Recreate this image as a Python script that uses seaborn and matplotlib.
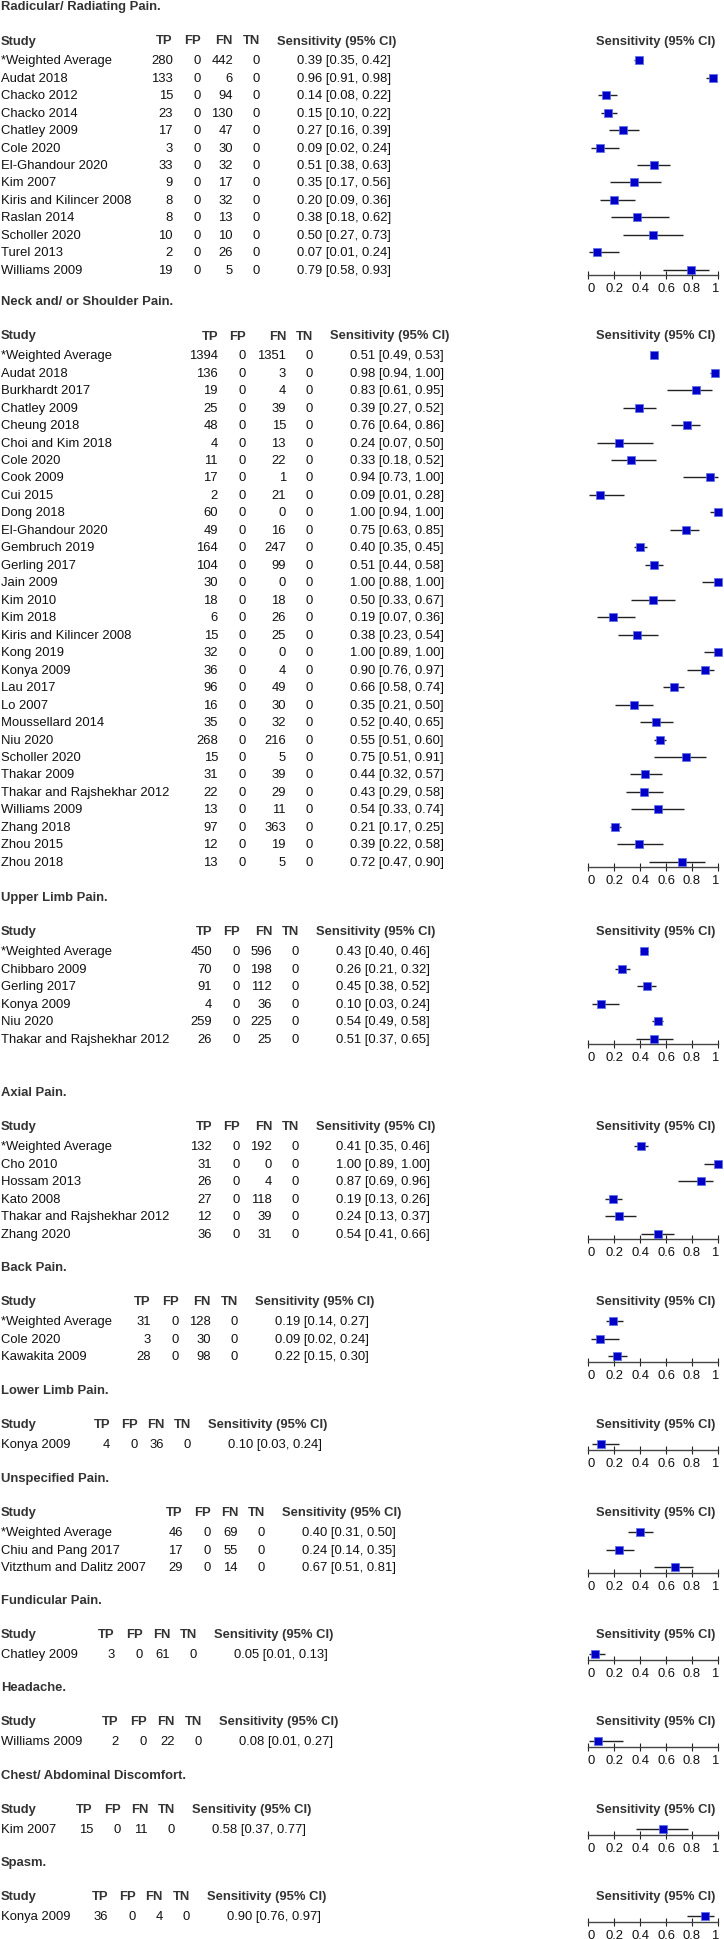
import matplotlib
matplotlib.use("Agg")
import matplotlib.pyplot as plt
import seaborn as sns
import pandas as pd
import numpy as np

# section titles and number of studies listed in each
sections = ["Radicular/ Radiating Pain.", "Neck and/ or Shoulder Pain.", "Upper Limb Pain.",
            "Axial Pain.", "Back Pain.", "Lower Limb Pain.", "Unspecified Pain.",
            "Fundicular Pain.", "Headache.", "Chest/ Abdominal Discomfort.", "Spasm."]
n_rows = [13, 30, 6, 6, 3, 1, 3, 1, 1, 1, 1]

study = [
    "*Weighted Average", "Audat 2018", "Chacko 2012", "Chacko 2014", "Chatley 2009", "Cole 2020",
    "El-Ghandour 2020", "Kim 2007", "Kiris and Kilincer 2008", "Raslan 2014", "Scholler 2020",
    "Turel 2013", "Williams 2009",
    "*Weighted Average", "Audat 2018", "Burkhardt 2017", "Chatley 2009", "Cheung 2018",
    "Choi and Kim 2018", "Cole 2020", "Cook 2009", "Cui 2015", "Dong 2018", "El-Ghandour 2020",
    "Gembruch 2019", "Gerling 2017", "Jain 2009", "Kim 2010", "Kim 2018", "Kiris and Kilincer 2008",
    "Kong 2019", "Konya 2009", "Lau 2017", "Lo 2007", "Moussellard 2014", "Niu 2020",
    "Scholler 2020", "Thakar 2009", "Thakar and Rajshekhar 2012", "Williams 2009", "Zhang 2018",
    "Zhou 2015", "Zhou 2018",
    "*Weighted Average", "Chibbaro 2009", "Gerling 2017", "Konya 2009", "Niu 2020",
    "Thakar and Rajshekhar 2012",
    "*Weighted Average", "Cho 2010", "Hossam 2013", "Kato 2008", "Thakar and Rajshekhar 2012",
    "Zhang 2020",
    "*Weighted Average", "Cole 2020", "Kawakita 2009",
    "Konya 2009",
    "*Weighted Average", "Chiu and Pang 2017", "Vitzthum and Dalitz 2007",
    "Chatley 2009",
    "Williams 2009",
    "Kim 2007",
    "Konya 2009",
]
tp = [280, 133, 15, 23, 17, 3, 33, 9, 8, 8, 10, 2, 19,
      1394, 136, 19, 25, 48, 4, 11, 17, 2, 60, 49, 164, 104, 30, 18, 6, 15, 32, 36, 96, 16, 35,
      268, 15, 31, 22, 13, 97, 12, 13,
      450, 70, 91, 4, 259, 26,
      132, 31, 26, 27, 12, 36,
      31, 3, 28,
      4,
      46, 17, 29,
      3,
      2,
      15,
      36]
fp = [0] * 66
fn = [442, 6, 94, 130, 47, 30, 32, 17, 32, 13, 10, 26, 5,
      1351, 3, 4, 39, 15, 13, 22, 1, 21, 0, 16, 247, 99, 0, 18, 26, 25, 0, 4, 49, 30, 32,
      216, 5, 39, 29, 11, 363, 19, 5,
      596, 198, 112, 36, 225, 25,
      192, 0, 4, 118, 39, 31,
      128, 30, 98,
      36,
      69, 55, 14,
      61,
      22,
      11,
      4]
tn = [0] * 66
sens = [0.39, 0.96, 0.14, 0.15, 0.27, 0.09, 0.51, 0.35, 0.20, 0.38, 0.50, 0.07, 0.79,
        0.51, 0.98, 0.83, 0.39, 0.76, 0.24, 0.33, 0.94, 0.09, 1.00, 0.75, 0.40, 0.51, 1.00, 0.50,
        0.19, 0.38, 1.00, 0.90, 0.66, 0.35, 0.52, 0.55, 0.75, 0.44, 0.43, 0.54, 0.21, 0.39, 0.72,
        0.43, 0.26, 0.45, 0.10, 0.54, 0.51,
        0.41, 1.00, 0.87, 0.19, 0.24, 0.54,
        0.19, 0.09, 0.22,
        0.10,
        0.40, 0.24, 0.67,
        0.05,
        0.08,
        0.58,
        0.90]
ci_lo = [0.35, 0.91, 0.08, 0.10, 0.16, 0.02, 0.38, 0.17, 0.09, 0.18, 0.27, 0.01, 0.58,
         0.49, 0.94, 0.61, 0.27, 0.64, 0.07, 0.18, 0.73, 0.01, 0.94, 0.63, 0.35, 0.44, 0.88, 0.33,
         0.07, 0.23, 0.89, 0.76, 0.58, 0.21, 0.40, 0.51, 0.51, 0.32, 0.29, 0.33, 0.17, 0.22, 0.47,
         0.40, 0.21, 0.38, 0.03, 0.49, 0.37,
         0.35, 0.89, 0.69, 0.13, 0.13, 0.41,
         0.14, 0.02, 0.15,
         0.03,
         0.31, 0.14, 0.51,
         0.01,
         0.01,
         0.37,
         0.76]
ci_hi = [0.42, 0.98, 0.22, 0.22, 0.39, 0.24, 0.63, 0.56, 0.36, 0.62, 0.73, 0.24, 0.93,
         0.53, 1.00, 0.95, 0.52, 0.86, 0.50, 0.52, 1.00, 0.28, 1.00, 0.85, 0.45, 0.58, 1.00, 0.67,
         0.36, 0.54, 1.00, 0.97, 0.74, 0.50, 0.65, 0.60, 0.91, 0.57, 0.58, 0.74, 0.25, 0.58, 0.90,
         0.46, 0.32, 0.52, 0.24, 0.58, 0.65,
         0.46, 1.00, 0.96, 0.26, 0.37, 0.66,
         0.27, 0.24, 0.30,
         0.24,
         0.50, 0.35, 0.81,
         0.13,
         0.27,
         0.77,
         0.97]

# layout (pixels): title position and right edges of TP / FN columns per section
title_y = [7, 302, 898, 1093, 1268, 1391, 1479, 1601, 1688, 1776, 1863]
tp_col = [173, 218, 212, 212, 151, 110, 183, 115, 119, 93, 108]
fn_col = [233, 286, 272, 272, 211, 164, 238, 170, 175, 148, 163]

W, H = 724, 1940
ROW_H = 17.47
FS = 9.4
DARK = "#333333"
INK = "#111111"

sns.set_style("white")
plt.rcParams["font.family"] = ["Liberation Sans", "DejaVu Sans"]

df = pd.DataFrame({"study": study, "tp": tp, "fp": fp, "fn": fn, "tn": tn,
                   "sens": sens, "lo": ci_lo, "hi": ci_hi})
df["section"] = np.repeat(np.arange(len(n_rows)), n_rows)
df["row"] = df.groupby("section").cumcount()

fig = plt.figure(figsize=(W / 100, H / 100), dpi=100)
bg = fig.add_axes([0, 0, 1, 1])
bg.set_xlim(0, W)
bg.set_ylim(H, 0)
bg.axis("off")

for k, title in enumerate(sections):
    sub = df[df.section == k]
    ty = title_y[k]
    hy = ty + 34.5
    y0 = hy + 19.7
    axis_y = y0 + (len(sub) - 1) * ROW_H + 5.5
    tp_x, fn_x = tp_col[k], fn_col[k]
    fp_x, tn_x = tp_x + 28, fn_x + 27
    se_x = tn_x + 136

    bg.text(1, ty, title, fontsize=FS, weight="bold", color=DARK, va="center")
    for x, lab, ha in [(1, "Study", "left"), (tp_x, "TP", "right"), (fp_x, "FP", "right"),
                       (fn_x, "FN", "right"), (tn_x, "TN", "right"),
                       (se_x, "Sensitivity (95% CI)", "right"), (656, "Sensitivity (95% CI)", "center")]:
        bg.text(x, hy, lab, fontsize=FS, weight="bold", color=DARK, ha=ha, va="center")

    for r in sub.itertuples():
        y = y0 + r.row * ROW_H
        bg.text(1, y, r.study, fontsize=FS, color=INK, va="center")
        for x, v in [(tp_x, r.tp), (fp_x, r.fp), (fn_x, r.fn), (tn_x, r.tn)]:
            bg.text(x, y, str(v), fontsize=FS, color=INK, ha="right", va="center")
        bg.text(se_x - 5, y, f"{r.sens:.2f} [{r.lo:.2f}, {r.hi:.2f}]",
                fontsize=FS, color=INK, ha="right", va="center")

    # forest panel
    top_u = -0.6
    bot_u = (axis_y - y0) / ROW_H
    top_px = y0 + top_u * ROW_H
    ax = fig.add_axes([588 / W, 1 - axis_y / H, 130 / W, (axis_y - top_px) / H])
    ax.set_facecolor("none")
    ax.hlines(sub.row, sub.lo, sub.hi, color="#222222", lw=1, zorder=2, clip_on=False)
    sns.scatterplot(data=sub, x="sens", y="row", marker="s", s=26, color="#0000c8",
                    edgecolor="#5a6ee6", linewidth=0.5, ax=ax, legend=False,
                    zorder=3, clip_on=False)
    ax.set_xlim(0, 1)
    ax.set_ylim(bot_u, top_u)
    ax.set_xlabel("")
    ax.set_ylabel("")
    ax.set_yticks([])
    sns.despine(ax=ax, left=True)
    ax.spines["bottom"].set_color("#444444")
    ax.spines["bottom"].set_linewidth(1)
    ax.set_xticks([0, 0.2, 0.4, 0.6, 0.8, 1])
    labels = ax.set_xticklabels(["0", "0.2", "0.4", "0.6", "0.8", "1"])
    labels[0].set_ha("left")
    labels[-1].set_ha("right")
    ax.tick_params(axis="x", direction="inout", length=6, width=0.8, color="#222222",
                   pad=2, labelsize=FS, labelcolor=INK, bottom=True)

fig.savefig("out.png", dpi=100)
